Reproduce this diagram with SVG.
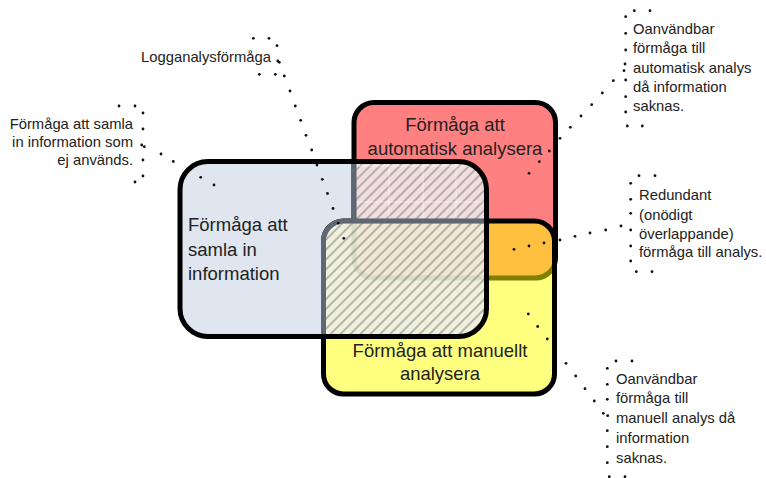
<svg xmlns="http://www.w3.org/2000/svg" width="766" height="478" viewBox="0 0 766 478">
<style>
.box{stroke:#000;stroke-width:5}
.t{font-family:"Liberation Sans",Arial,sans-serif;font-size:18.5px;fill:#222}
.l{font-family:"Liberation Sans",Arial,sans-serif;font-size:14.8px;fill:#222}
.dots circle{fill:#111}
</style>
<defs>
<rect id="rb" x="180" y="161.5" width="306.5" height="175" rx="28"/>
<rect id="rr" x="354" y="102.5" width="201.5" height="175.5" rx="20"/>
<rect id="ry" x="323.5" y="221" width="231" height="173" rx="20"/>
<clipPath id="cb"><use href="#rb"/></clipPath>
<clipPath id="cry"><use href="#rr"/><use href="#ry"/></clipPath>
<clipPath id="cpink"><rect x="356.5" y="164" width="128" height="54.5"/></clipPath>
<pattern id="hatch" width="7" height="7" patternUnits="userSpaceOnUse" patternTransform="rotate(45)"><line x1="1" y1="0" x2="1" y2="7" stroke="#7a7a7a" stroke-width="1"/></pattern>
</defs>

<g id="node-samla">
<use href="#rb" fill="#DFE6F0"/>
<text class="t" x="188" y="231">Förmåga att</text>
<text class="t" x="188" y="256">samla in</text>
<text class="t" x="188" y="280">information</text>
</g>

<g id="node-automatisk">
<use href="#rr" class="box" fill="#FF8080"/>
<text class="t" x="455" y="131" text-anchor="middle">Förmåga att</text>
<text class="t" x="455" y="155" text-anchor="middle">automatisk analysera</text>
</g>

<g id="node-manuell">
<use href="#ry" class="box" fill="#FFFF00" fill-opacity="0.5"/>
<text class="t" x="440" y="357" text-anchor="middle">Förmåga att manuellt</text>
<text class="t" x="440" y="380" text-anchor="middle">analysera</text>
</g>

<g id="overlap" clip-path="url(#cb)">
<g clip-path="url(#cry)">
<rect x="300" y="150" width="270" height="200" fill="rgb(238,241,240)" fill-opacity="0.83"/>
<rect x="300" y="150" width="270" height="200" fill="url(#hatch)"/>
</g>
<g clip-path="url(#cpink)" stroke="#fff" stroke-opacity="0.55" stroke-width="1">
<line x1="389" y1="160" x2="389" y2="222"/>
<line x1="423" y1="160" x2="423" y2="222"/>
<line x1="456" y1="160" x2="456" y2="222"/>
<line x1="350" y1="166" x2="490" y2="166"/>
<line x1="350" y1="202" x2="490" y2="202"/>
</g>
<use href="#ry" fill="none" stroke="#5F6773" stroke-width="5"/>
<line x1="354" y1="158" x2="354" y2="219" stroke="#5F6773" stroke-width="5"/>
</g>

<g id="node-samla-outline">
<use href="#rb" class="box" fill="none"/>
</g>

<g id="label-logganalys"><text class="l" x="141" y="62">Logganalysförmåga</text></g>
<g id="label-samla-ej">
<text class="l" x="133" y="129" text-anchor="end">Förmåga att samla</text>
<text class="l" x="133" y="147" text-anchor="end">in information som</text>
<text class="l" x="133" y="165" text-anchor="end">ej används.</text>
</g>
<g id="label-oanv-auto">
<text class="l" x="633" y="34">Oanvändbar</text>
<text class="l" x="633" y="53">förmåga till</text>
<text class="l" x="633" y="73">automatisk analys</text>
<text class="l" x="633" y="92">då information</text>
<text class="l" x="633" y="111">saknas.</text>
</g>
<g id="label-redundant">
<text class="l" x="639" y="200">Redundant</text>
<text class="l" x="639" y="220">(onödigt</text>
<text class="l" x="639" y="239">överlappande)</text>
<text class="l" x="639" y="257">förmåga till analys.</text>
</g>
<g id="label-oanv-manuell">
<text class="l" x="616" y="384">Oanvändbar</text>
<text class="l" x="616" y="403">förmåga till</text>
<text class="l" x="616" y="423">manuell analys då</text>
<text class="l" x="616" y="443">information</text>
<text class="l" x="616" y="463">saknas.</text>
</g>

<g id="connectors" class="dots">
<g id="c-samla-ej">
<circle cx="119" cy="106" r="1.4"/><circle cx="135" cy="106" r="1.4"/><circle cx="143" cy="113" r="1.4"/><circle cx="143" cy="129" r="1.4"/><circle cx="141.7" cy="145" r="1.4"/><circle cx="144.3" cy="146.7" r="1.4"/><circle cx="143" cy="160" r="1.4"/><circle cx="143" cy="176" r="1.4"/><circle cx="135" cy="182" r="1.4"/>
<circle cx="161" cy="154" r="1.4"/><circle cx="173.3" cy="161.5" r="1.4"/><circle cx="200.7" cy="177.3" r="1.4"/><circle cx="214" cy="185" r="1.4"/>
</g>
<g id="c-logganalys">
<circle cx="253.3" cy="38.3" r="1.4"/><circle cx="269" cy="38.3" r="1.4"/><circle cx="277" cy="45.7" r="1.4"/><circle cx="277.8" cy="61" r="1.4"/><circle cx="279.3" cy="62.3" r="1.4"/><circle cx="259.3" cy="74.3" r="1.4"/><circle cx="275.3" cy="74.3" r="1.4"/>
<circle cx="284.3" cy="76" r="1.4"/><circle cx="290" cy="91" r="1.4"/><circle cx="295.3" cy="106" r="1.4"/><circle cx="300.7" cy="120.3" r="1.4"/><circle cx="306" cy="135.3" r="1.4"/><circle cx="311.7" cy="150" r="1.4"/><circle cx="317" cy="165" r="1.4"/><circle cx="322.3" cy="179.3" r="1.4"/><circle cx="327.5" cy="193.5" r="1.4"/><circle cx="333" cy="208.5" r="1.4"/><circle cx="338.2" cy="223.2" r="1.4"/><circle cx="343.8" cy="238.3" r="1.4"/>
</g>
<g id="c-oanv-auto">
<circle cx="634.3" cy="10.7" r="1.4"/><circle cx="650" cy="10.7" r="1.4"/><circle cx="625.7" cy="16.7" r="1.4"/><circle cx="625.7" cy="33.3" r="1.4"/><circle cx="625.7" cy="50" r="1.4"/><circle cx="625" cy="64" r="1.4"/><circle cx="624" cy="70.7" r="1.4"/><circle cx="625.7" cy="80" r="1.4"/><circle cx="625.7" cy="96.7" r="1.4"/><circle cx="625.7" cy="112" r="1.4"/><circle cx="627.3" cy="126" r="1.4"/><circle cx="642.3" cy="126" r="1.4"/>
<circle cx="613.3" cy="80.7" r="1.4"/><circle cx="602.3" cy="93" r="1.4"/><circle cx="591.7" cy="104.7" r="1.4"/><circle cx="581" cy="116" r="1.4"/><circle cx="570.3" cy="127.3" r="1.4"/><circle cx="560" cy="138.3" r="1.4"/><circle cx="549.3" cy="151" r="1.4"/><circle cx="539.3" cy="161.7" r="1.4"/><circle cx="529" cy="173.3" r="1.4"/>
</g>
<g id="c-redundant">
<circle cx="639" cy="175.7" r="1.4"/><circle cx="655" cy="175.7" r="1.4"/><circle cx="630.7" cy="183.3" r="1.4"/><circle cx="630.7" cy="199.3" r="1.4"/><circle cx="630.7" cy="213.3" r="1.4"/><circle cx="630.7" cy="230" r="1.4"/><circle cx="630.7" cy="246" r="1.4"/><circle cx="630.7" cy="261" r="1.4"/><circle cx="636.3" cy="271.7" r="1.4"/><circle cx="652" cy="271.7" r="1.4"/>
<circle cx="621" cy="226" r="1.4"/><circle cx="605.7" cy="230" r="1.4"/><circle cx="590" cy="233" r="1.4"/><circle cx="575" cy="236.3" r="1.4"/><circle cx="560" cy="240" r="1.4"/><circle cx="544" cy="243" r="1.4"/><circle cx="529" cy="246" r="1.4"/><circle cx="514" cy="249.3" r="1.4"/>
</g>
<g id="c-oanv-manuell">
<circle cx="616" cy="361" r="1.4"/><circle cx="632" cy="361" r="1.4"/><circle cx="607.3" cy="368.3" r="1.4"/><circle cx="607.3" cy="384.3" r="1.4"/><circle cx="607.3" cy="399.3" r="1.4"/><circle cx="607.7" cy="415.7" r="1.4"/><circle cx="607.3" cy="430.7" r="1.4"/><circle cx="607.3" cy="446.7" r="1.4"/><circle cx="607.3" cy="462.7" r="1.4"/><circle cx="609.3" cy="476.7" r="1.4"/><circle cx="625" cy="476.7" r="1.4"/>
<circle cx="528.3" cy="314" r="1.4"/><circle cx="537.7" cy="326.5" r="1.4"/><circle cx="547.3" cy="339" r="1.4"/><circle cx="566" cy="363.3" r="1.4"/><circle cx="575.7" cy="376" r="1.4"/><circle cx="585" cy="388.7" r="1.4"/><circle cx="594.3" cy="401" r="1.4"/><circle cx="603.3" cy="413.3" r="1.4"/>
</g>
</g>
</svg>
